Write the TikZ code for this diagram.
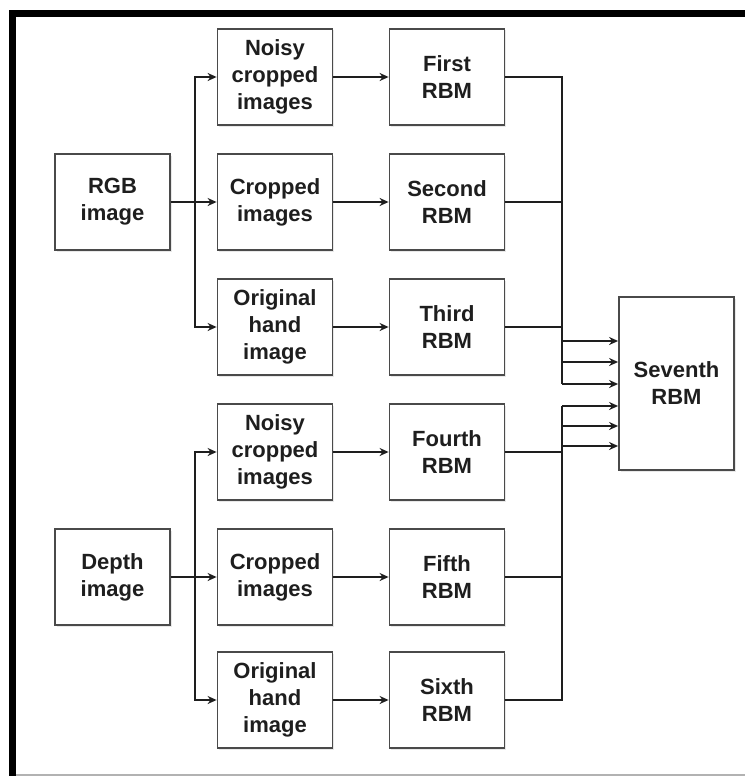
\documentclass[tikz,border=0pt]{standalone}
\usepackage{fontspec}
\setmainfont{Liberation Sans}
\usetikzlibrary{arrows.meta,shadows}

\definecolor{boxline}{HTML}{4A4A4A}
\definecolor{inkdark}{HTML}{1E1E1E}

\tikzset{
	blk/.style={draw=boxline, line width=1.8pt, fill=white, minimum width=115pt, minimum height=96pt, inner sep=0pt, align=center, text=inkdark, font=\fontsize{22}{27}\selectfont\bfseries, drop shadow={opacity=0.18, shadow xshift=1.5pt, shadow yshift=-1.5pt}},
	wire/.style={inkdark, line width=1.7pt},
	feed/.style={wire, -{Stealth[length=9pt, width=8pt]}}
}

\begin{document}
\begin{tikzpicture}[x=1pt, y=-1pt]
	\useasboundingbox (0,0) rectangle (745,776);
	% frame
	\fill[black] (9,10) rectangle (745,17);
	\fill[black] (9,10) rectangle (16,776);
	\fill[black!30] (16,774) rectangle (745,776);

	% inputs
	\node[blk] (rgb) at (112.5,202) {RGB\\image};
	\node[blk] (dep) at (112.5,577) {Depth\\image};

	% preprocessed images and their RBMs
	\foreach \i / \y / \txt / \nm in {1/77/{Noisy\\cropped\\images}/First, 2/202/{Cropped\\images}/Second, 3/327/{Original\\hand\\image}/Third, 4/452/{Noisy\\cropped\\images}/Fourth, 5/577/{Cropped\\images}/Fifth, 6/700/{Original\\hand\\image}/Sixth} {
		\node[blk] (pre\i) at (275,\y) {\txt};
		\node[blk] (rbm\i) at (447,\y) {\nm\\RBM};
		\draw[feed] (pre\i) -- (rbm\i);
	}

	\node[blk, minimum height=173pt] (top) at (676.5,383.5) {Seventh\\RBM};

	% fan out from the inputs
	\draw[feed] (rgb.east) -- ++(24,0) |- (pre1.west);
	\draw[feed] (rgb.east) -- (pre2.west);
	\draw[feed] (rgb.east) -- ++(24,0) |- (pre3.west);
	\draw[feed] (dep.east) -- ++(24,0) |- (pre4.west);
	\draw[feed] (dep.east) -- (pre5.west);
	\draw[feed] (dep.east) -- ++(24,0) |- (pre6.west);

	% collecting buses into the seventh RBM
	\foreach \k / \y in {1/341, 2/362, 3/384, 4/406, 5/426, 6/446} {
		\coordinate (tap\k) at (562,\y);
		\draw[feed] (tap\k) -- (tap\k -| top.west);
	}
	\draw[wire] (rbm1.east) -| (tap3);
	\draw[wire] (rbm2.east) -- (rbm2.east -| tap3);
	\draw[wire] (rbm3.east) -- (rbm3.east -| tap3);
	\draw[wire] (rbm6.east) -| (tap4);
	\draw[wire] (rbm4.east) -- (rbm4.east -| tap4);
	\draw[wire] (rbm5.east) -- (rbm5.east -| tap4);
\end{tikzpicture}
\end{document}
